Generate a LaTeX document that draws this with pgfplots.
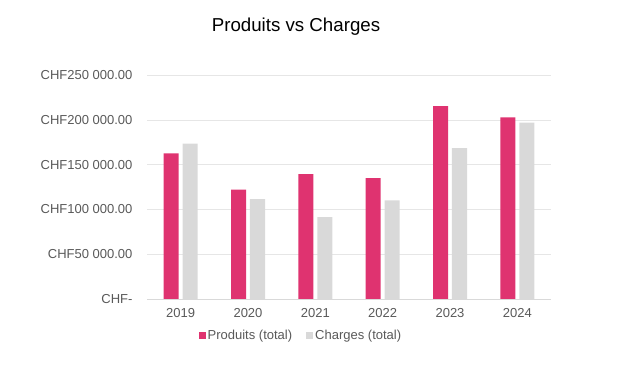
\documentclass[border=0pt]{standalone}
\usepackage{pgfplots}
\pgfplotsset{compat=1.18}
\usepackage{fontspec}
\setmainfont{Liberation Sans}
\definecolor{pink}{HTML}{DF3370}
\definecolor{lgrey}{HTML}{D9D9D9}
\definecolor{txt}{HTML}{595959}
\definecolor{grid}{HTML}{E6E6E6}
\begin{document}
\begin{tikzpicture}
\path[use as bounding box] (0,0) rectangle (628bp,373bp);
\node[font=\fontsize{18.7bp}{22bp}\selectfont, text=black] at (296bp,346bp) {Produits vs Charges};
\begin{axis}[
  at={(147bp,74bp)}, anchor=south west,
  width=404bp, height=224bp, scale only axis,
  xmin=-0.5, xmax=5.5, ymin=0, ymax=250000,
  ybar, bar width=0.223,
  scaled y ticks=false,
  axis x line*=bottom, axis y line*=left,
  x axis line style={draw=lgrey, -}, y axis line style={draw=none},
  xtick=data, xtick style={draw=none},
  xticklabels={2019,2020,2021,2022,2023,2024},
  ytick={0,50000,100000,150000,200000,250000},
  yticklabels={CHF-,CHF50 000.00,CHF100 000.00,CHF150 000.00,CHF200 000.00,CHF250 000.00},
  ymajorgrids, grid style={draw=grid, line width=0.6pt},
  ytick style={draw=none},
  tick label style={font=\fontsize{13bp}{15bp}\selectfont, text=txt},
  yticklabel style={anchor=east, xshift=-11bp},
  xticklabel style={yshift=-2bp},
  legend style={at={(0.381,-0.161)}, anchor=center, draw=none, fill=none,
    font=\fontsize{13bp}{15bp}\selectfont, text=txt, legend columns=2,
    /tikz/every even column/.append style={column sep=12bp}},
  legend cell align=left,
  legend image code/.code={\fill[#1] (0bp,-3.5bp) rectangle (7bp,3.5bp);},
]
\addplot[fill=pink, draw=none, bar shift=-0.141] coordinates {(0,162600) (1,122000) (2,139500) (3,135000) (4,215400) (5,202800)};
\addplot[fill=lgrey, draw=none, bar shift=0.141] coordinates {(0,173400) (1,111600) (2,91500) (3,110000) (4,168500) (5,196800)};
\legend{Produits (total),Charges (total)}
\end{axis}
\end{tikzpicture}
\end{document}
